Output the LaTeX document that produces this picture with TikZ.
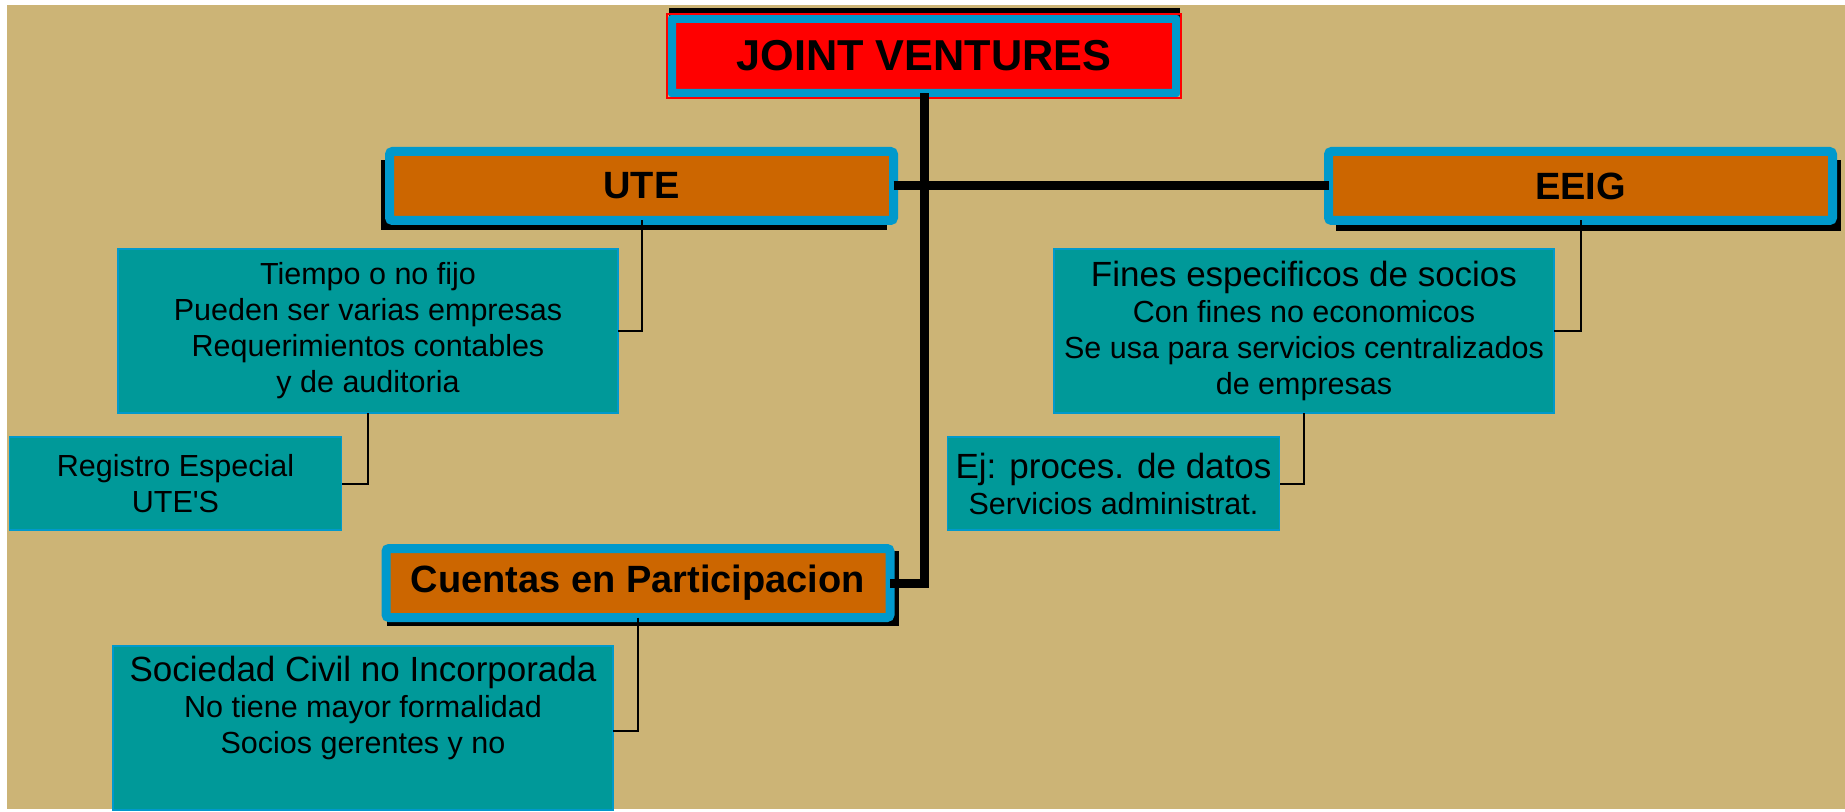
\documentclass[tikz,border=0pt]{standalone}
\usepackage{fontspec}
\setmainfont{Liberation Sans}[Ligatures=TeXOff]
\usetikzlibrary{calc}
\definecolor{bgtan}{RGB}{204,180,118}
\definecolor{boxteal}{RGB}{0,153,153}
\definecolor{rimblue}{RGB}{0,153,204}
\definecolor{titleorange}{RGB}{204,102,0}
\definecolor{jvred}{RGB}{255,0,0}
\begin{document}
\begin{tikzpicture}[x=0.4pt,y=-0.4pt,
  titlebox/.style={draw=rimblue, line width=3.6pt, fill=titleorange, rounded corners=1.2pt,
    minimum width=201.6pt, minimum height=27.6pt, inner sep=0pt, outer sep=0pt,
    font=\bfseries\fontsize{15.2}{18}\selectfont},
  infobox/.style={draw=rimblue, line width=0.5pt, fill=boxteal, inner sep=0pt, outer sep=0pt,
    align=center, font=\fontsize{12.2}{14.4}\selectfont},
  bigbox/.style={infobox, minimum width=200pt, minimum height=65.6pt},
  smallbox/.style={infobox, minimum width=132.8pt, minimum height=37.2pt},
  conn/.style={line width=0.8pt, black},
  trunk/.style={line width=3.6pt, black},
  shadowfill/.style={fill=black}]
\useasboundingbox (0,0) rectangle (1845,812);
\fill[white] (0,0) rectangle (1845,812);
\fill[bgtan] (7,5) rectangle (1845,809);
% shadows
\fill[shadowfill] (669,8) rectangle (1180,60);
\fill[shadowfill] (381,160) rectangle (887,230);
\fill[shadowfill] (1336,160) rectangle (1841,231);
\fill[shadowfill] (387,551) rectangle (899,626);
% title nodes
\node[titlebox, fill=jvred, minimum width=202pt, minimum height=30pt,
  font=\bfseries\fontsize{17.3}{20}\selectfont] (jv) at (924,56) {JOINT VENTURES};
\draw[jvred, line width=0.8pt] ($(jv.north west)+(-4.8,-4.8)$) rectangle ($(jv.south east)+(4.8,4.8)$);
\node[titlebox] (ute) at (641.5,186) {UTE};
\node[titlebox] (eeig) at (1580.5,186) {EEIG};
\node[titlebox] (cuentas) at (638,583) {Cuentas en Participacion};
% info nodes
\node[bigbox] (tiempo) at (368,331) {Tiempo o no fijo\\Pueden ser varias empresas\\Requerimientos contables\\y de auditoria};
\node[smallbox] (registro) at (175.5,483.5) {Registro Especial\\UTE'S};
\node[bigbox] (fines) at (1304,331) {{\fontsize{14}{16}\selectfont Fines especificos de socios}\\Con fines no economicos\\Se usa para servicios centralizados\\de empresas};
\node[smallbox] (ej) at (1113.5,483.5) {{\fontsize{14}{16}\selectfont Ej: proces. de datos}\\Servicios administrat.};
\node[bigbox] (soc) at (363,728) {{\fontsize{14}{16}\selectfont Sociedad Civil no Incorporada}\\No tiene mayor formalidad\\Socios gerentes y no\\\strut};
% connectors
\draw[trunk] (jv.south) |- (cuentas.east);
\draw[trunk] (ute.east) -- (eeig.west);
\draw[conn] (ute.south) |- (tiempo.east);
\draw[conn] (tiempo.south) |- (registro.east);
\draw[conn] (eeig.south) |- (fines.east);
\draw[conn] (fines.south) |- (ej.east);
\draw[conn] (cuentas.south) |- ($(soc.east)+(0,3)$);
\end{tikzpicture}
\end{document}
